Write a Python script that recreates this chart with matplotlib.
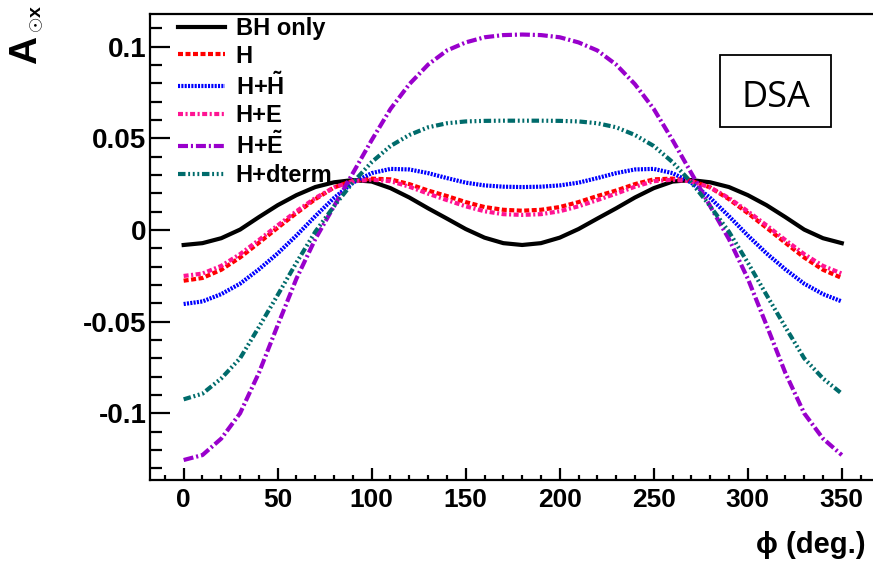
import matplotlib.pyplot as plt
from matplotlib.patches import Rectangle
from matplotlib.ticker import MultipleLocator
import numpy as np

plt.rcParams['font.family'] = ['Liberation Sans', 'DejaVu Sans']
plt.rcParams['axes.unicode_minus'] = False
plt.rcParams['mathtext.fontset'] = 'custom'
plt.rcParams['mathtext.rm'] = 'Liberation Sans:bold'
plt.rcParams['mathtext.it'] = 'Liberation Sans:bold'
plt.rcParams['mathtext.bf'] = 'Liberation Sans:bold'

# phi in degrees
phi = [0, 10, 20, 30, 40, 50, 60, 70, 80, 90, 100, 110, 120, 130, 140, 150, 160, 170,
       180, 190, 200, 210, 220, 230, 240, 250, 260, 270, 280, 290, 300, 310, 320, 330, 340, 350]

bh = [-0.0082, -0.0072, -0.0045, 0.0002, 0.0070, 0.0135, 0.0190, 0.0234, 0.0260, 0.0272,
      0.0264, 0.0228, 0.0177, 0.0118, 0.0062, 0.0005, -0.0042, -0.0072, -0.0082, -0.0072,
      -0.0042, 0.0005, 0.0062, 0.0118, 0.0177, 0.0228, 0.0264, 0.0272, 0.0260, 0.0234,
      0.0190, 0.0135, 0.0070, 0.0002, -0.0045, -0.0072]
h = [-0.0277, -0.0262, -0.0217, -0.0150, -0.0070, 0.0012, 0.0092, 0.0168, 0.0232, 0.0268,
     0.0280, 0.0276, 0.0250, 0.0215, 0.0185, 0.0152, 0.0125, 0.0110, 0.0105, 0.0110,
     0.0125, 0.0152, 0.0185, 0.0215, 0.0250, 0.0276, 0.0280, 0.0268, 0.0232, 0.0168,
     0.0092, 0.0012, -0.0070, -0.0150, -0.0217, -0.0262]
h_ht = [-0.0404, -0.0390, -0.0350, -0.0293, -0.0215, -0.0128, -0.0030, 0.0075, 0.0175, 0.0258,
        0.0310, 0.0333, 0.0330, 0.0310, 0.0283, 0.0258, 0.0243, 0.0236, 0.0234, 0.0236,
        0.0243, 0.0258, 0.0283, 0.0310, 0.0330, 0.0333, 0.0310, 0.0258, 0.0175, 0.0075,
        -0.0030, -0.0128, -0.0215, -0.0293, -0.0350, -0.0390]
h_e = [-0.0251, -0.0238, -0.0196, -0.0132, -0.0055, 0.0025, 0.0102, 0.0174, 0.0232, 0.0265,
       0.0274, 0.0266, 0.0236, 0.0198, 0.0163, 0.0129, 0.0102, 0.0086, 0.0082, 0.0086,
       0.0102, 0.0129, 0.0163, 0.0198, 0.0236, 0.0266, 0.0274, 0.0265, 0.0232, 0.0174,
       0.0102, 0.0025, -0.0055, -0.0132, -0.0196, -0.0238]
h_et = [-0.1255, -0.1228, -0.1138, -0.1000, -0.0780, -0.0520, -0.0265, -0.0050, 0.0130, 0.0310,
        0.0490, 0.0660, 0.0795, 0.0902, 0.0979, 0.1023, 0.1051, 0.1063, 0.1066, 0.1063,
        0.1051, 0.1023, 0.0979, 0.0902, 0.0795, 0.0660, 0.0490, 0.0310, 0.0130, -0.0050,
        -0.0265, -0.0520, -0.0780, -0.1000, -0.1138, -0.1228]
h_d = [-0.0924, -0.0893, -0.0810, -0.0700, -0.0530, -0.0355, -0.0178, -0.0010, 0.0130, 0.0259,
       0.0370, 0.0458, 0.0518, 0.0560, 0.0582, 0.0592, 0.0595, 0.0596, 0.0596, 0.0596,
       0.0595, 0.0592, 0.0582, 0.0560, 0.0518, 0.0458, 0.0370, 0.0259, 0.0130, -0.0010,
       -0.0178, -0.0355, -0.0530, -0.0700, -0.0810, -0.0893]

labels = ['BH only', 'H', r'H+$\tilde{\mathrm{H}}$', 'H+E', r'H+$\tilde{\mathrm{E}}$', 'H+dterm']
series = [bh, h, h_ht, h_e, h_et, h_d]
colors = ['black', '#ff0000', '#0000ff', '#ff1493', '#9900cc', '#006b6b']
dashes = [None, (1.2, 0.6), (0.5, 0.3), (1.2, 0.6, 0.5, 0.6), (2.4, 0.7, 0.5, 0.7),
          (1.8, 0.65, 0.45, 0.65, 0.45, 0.65, 0.45, 0.65)]

fig = plt.figure(figsize=(8.73, 5.65), dpi=100)
ax = fig.add_axes([150/873, 1-480/565, 1-150/873, 466/565])

for y, lab, c, d in zip(series, labels, colors, dashes):
    if d is None:
        ax.plot(phi, y, color=c, lw=3, label=lab)
    else:
        ax.plot(phi, y, color=c, lw=3, linestyle=(0, d), dash_capstyle='butt', label=lab)

ax.set_xlim(-17.9, 366.6)
ax.set_ylim(-0.1364, 0.1178)

ax.set_xticks([0, 50, 100, 150, 200, 250, 300, 350])
ax.xaxis.set_minor_locator(MultipleLocator(10))
yt = [-0.1, -0.05, 0, 0.05, 0.1]
ax.set_yticks(yt)
ax.set_yticklabels(['-0.1', '-0.05', '0', '0.05', '0.1'])
ax.yaxis.set_minor_locator(MultipleLocator(0.01))

ax.tick_params(axis='y', which='major', direction='in', length=14.5, width=1.6, pad=2.5, labelsize=20)
ax.tick_params(axis='y', which='minor', direction='in', length=8.5, width=1.6)
ax.tick_params(axis='x', which='major', direction='in', length=9, width=1.6, pad=6, labelsize=19)
ax.tick_params(axis='x', which='minor', direction='in', length=3.8, width=1.6)
for t in ax.get_xticklabels() + ax.get_yticklabels():
    t.set_fontweight('bold')

ax.spines['right'].set_visible(False)
for s in ['left', 'bottom', 'top']:
    ax.spines[s].set_linewidth(1.6)

ax.legend(loc='upper left', bbox_to_anchor=(178/873, 1-17/565), bbox_transform=fig.transFigure,
          frameon=False, prop={'weight': 'bold', 'size': 17}, handlelength=2.0,
          handletextpad=0.45, labelspacing=0.2, borderpad=0, borderaxespad=0)

# y title: A with subscript (odot x), rotated like the ROOT axis title
fig.text(26/873, 1-64/565, 'A', rotation=90, ha='center', va='bottom',
         fontsize=28, fontweight='bold')
fig.text(37/873, 1-33/565, r'$\odot$x', rotation=90, ha='center', va='bottom',
         fontsize=14, fontweight='bold')
fig.text(866/873, 1-553/565, 'ϕ (deg.)', ha='right', va='baseline', fontsize=21, fontweight='bold')

fig.add_artist(Rectangle((720/873, 1-127/565), 111/873, 72/565, transform=fig.transFigure,
                         fill=False, lw=1.3, ec='black'))
fig.text(776/873, 1-106.7/565, 'DSA', ha='center', va='baseline', fontsize=26, family='Open Sans')

fig.savefig('out.png', dpi=100)
